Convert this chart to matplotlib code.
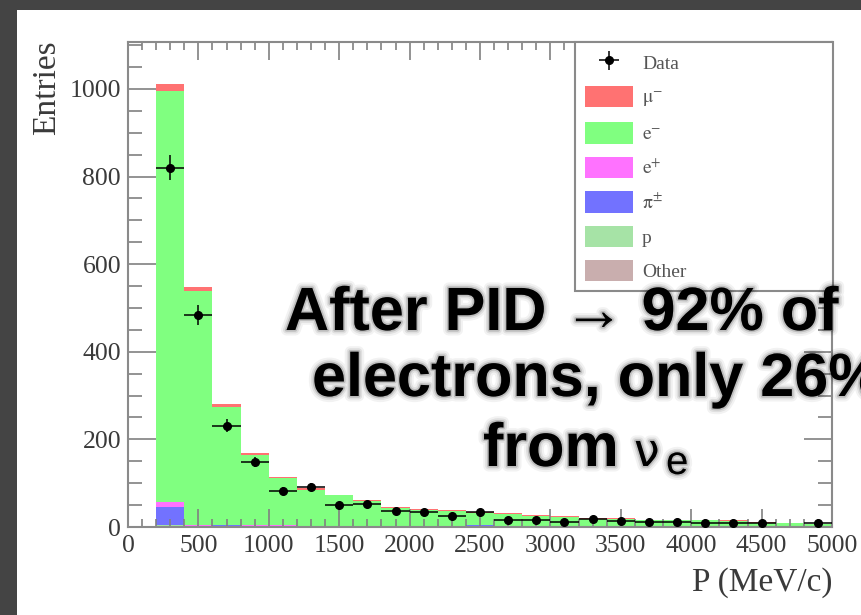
"""
Stacked MC momentum spectrum of the selected sample with data overlaid.
"""

import numpy as np
import matplotlib
matplotlib.use("Agg")
import matplotlib.pyplot as plt
import matplotlib.patheffects as pe
from matplotlib.patches import Rectangle, Patch
from matplotlib.ticker import MultipleLocator

# 200 MeV/c bins from 200 to 5000 MeV/c
bin_low = [200, 400, 600, 800, 1000, 1200, 1400, 1600, 1800, 2000, 2200, 2400,
           2600, 2800, 3000, 3200, 3400, 3600, 3800, 4000, 4200, 4400, 4600, 4800]
bin_width = 200

# MC components, stacked bottom to top
mc_other = [3, 1, 1, 1, 1, 1, 1, 1, 1, 1, 2, 3, 3, 3, 1, 1, 1, 1, 1, 1, 1, 0, 0, 2]
mc_p     = [1, 0, 0, 0, 0, 0, 0, 0, 0, 0, 0, 0, 0, 0, 0, 0, 0, 0, 0, 0, 0, 0, 0, 0]
mc_pi    = [42, 2, 3, 2, 2, 2, 1, 1, 2, 1, 1, 1, 0, 0, 1, 0, 1, 0, 0, 0, 0, 0, 0, 0]
mc_eplus = [11, 1, 1, 1, 1, 0, 0, 0, 0, 0, 0, 0, 0, 0, 0, 0, 0, 0, 0, 0, 0, 0, 0, 0]
mc_eminus = [938, 535, 270, 160, 108, 82, 70, 57, 40, 37, 33, 29, 27, 23, 21, 18,
             17, 14, 14, 14, 12, 10, 10, 4]
mc_mu    = [17, 8, 5, 4, 3, 3, 2, 2, 2, 2, 2, 2, 1, 1, 1, 1, 1, 1, 1, 2, 2, 1, 0, 0]

data = [820, 484, 231, 148, 82, 91, 50, 53, 37, 35, 24, 35, 16, 16, 12, 18,
        14, 12, 12, 8, 8, 8, 0, 9]

components = [
    (mc_other,  "#c9aeae", "Other"),
    (mc_p,      "#a6e3a6", "p"),
    (mc_pi,     "#7272ff", r"$\mathrm{\pi}^{\pm}$"),
    (mc_eplus,  "#ff72ff", r"$\mathrm{e}^{+}$"),
    (mc_eminus, "#80ff80", r"$\mathrm{e}^{-}$"),
    (mc_mu,     "#ff7272", r"$\mathrm{\mu}^{-}$"),
]

W, H = 861, 615


def fx(px):
    return px / W


def fy(py):
    return 1 - py / H


def main():
    plt.rcParams["mathtext.fontset"] = "stix"
    serif = ["Liberation Serif", "DejaVu Serif"]

    fig = plt.figure(figsize=(W / 100, H / 100), dpi=100, facecolor="#444444")
    fig.add_artist(Rectangle((fx(17), 0), 1, fy(10), transform=fig.transFigure,
                             facecolor="white", edgecolor="none", zorder=-1))

    ax = fig.add_axes([fx(128), fy(527), fx(832) - fx(128), fy(42) - fy(527)])

    centers = np.array(bin_low) + bin_width / 2
    bottom = np.zeros(len(bin_low))
    for vals, col, lab in components:
        ax.bar(centers, vals, width=bin_width, bottom=bottom, color=col,
               edgecolor="none", linewidth=0, zorder=1)
        bottom += np.array(vals)

    d = np.array(data, dtype=float)
    keep = d > 0
    dat = ax.errorbar(centers[keep], d[keep], xerr=bin_width / 2,
                      yerr=np.sqrt(d[keep]), fmt="o", color="black",
                      markersize=5.5, elinewidth=1.1, capsize=0, zorder=3)

    ax.set_xlim(0, 5000)
    ax.set_ylim(0, 1107)
    ax.xaxis.set_major_locator(MultipleLocator(500))
    ax.xaxis.set_minor_locator(MultipleLocator(100))
    ax.yaxis.set_major_locator(MultipleLocator(200))
    ax.yaxis.set_minor_locator(MultipleLocator(50))

    ax.tick_params(which="both", direction="in", top=True, right=True,
                   color="#808080", width=1.2, labelcolor="#3a3a3a")
    ax.tick_params(axis="x", which="major", length=13, pad=6)
    ax.tick_params(axis="x", which="minor", length=6)
    ax.tick_params(axis="y", which="major", length=20, pad=5)
    ax.tick_params(axis="y", which="minor", length=10)
    for lab in ax.get_xticklabels() + ax.get_yticklabels():
        lab.set_fontfamily(serif)
        lab.set_fontsize(18.5)
    for sp in ax.spines.values():
        sp.set_color("#8a8a8a")
        sp.set_linewidth(1.5)

    ax.set_xlabel("P (MeV/c)", loc="right", fontfamily=serif, fontsize=24,
                  color="#3a3a3a")
    ax.xaxis.set_label_coords(1.0, -0.083)
    ax.set_ylabel("Entries", loc="top", fontfamily=serif, fontsize=24,
                  color="#3a3a3a")
    ax.yaxis.set_label_coords(-0.094, 1.004)

    handles = [dat] + [Patch(facecolor=c, edgecolor="none")
                       for _, c, _ in reversed(components)]
    labels = ["Data"] + [lab for _, _, lab in reversed(components)]
    leg = ax.legend(handles, labels, loc="upper left",
                    bbox_to_anchor=(0.635, 0.0, 0.367, 1.0), mode="expand",
                    borderaxespad=0, fancybox=False, framealpha=1,
                    edgecolor="#8a8a8a", prop={"family": serif, "size": 14},
                    handlelength=2.5, handleheight=1.3, handletextpad=0.45,
                    labelspacing=0.68, borderpad=0.5)
    leg.get_frame().set_linewidth(1.5)
    for t in leg.get_texts():
        t.set_color("#555555")

    # slide annotation with a soft shadow
    glow = [pe.Stroke(linewidth=8, foreground="black", alpha=0.05),
            pe.Stroke(linewidth=5, foreground="black", alpha=0.08),
            pe.Stroke(linewidth=2.5, foreground="black", alpha=0.15),
            pe.Normal()]
    sans = ["Liberation Sans", "DejaVu Sans"]
    txt = dict(color="black", va="baseline", ha="left", path_effects=glow,
               zorder=10)
    bold = dict(txt, fontfamily=sans, fontweight="bold", fontsize=44)
    fig.text(fx(285), fy(330), "After PID \u2192 92% of", **bold)
    fig.text(fx(312), fy(396), "electrons, only 26%", **bold)
    fig.text(fx(483), fy(466), "from", **bold)
    fig.text(fx(634), fy(466), "\u03bd", fontfamily=["DejaVu Sans"],
             fontsize=33, **txt)
    fig.text(fx(666), fy(474), "e", fontfamily=sans, fontsize=29, **txt)

    fig.savefig("out.png", dpi=100, facecolor=fig.get_facecolor())


if __name__ == "__main__":
    main()
